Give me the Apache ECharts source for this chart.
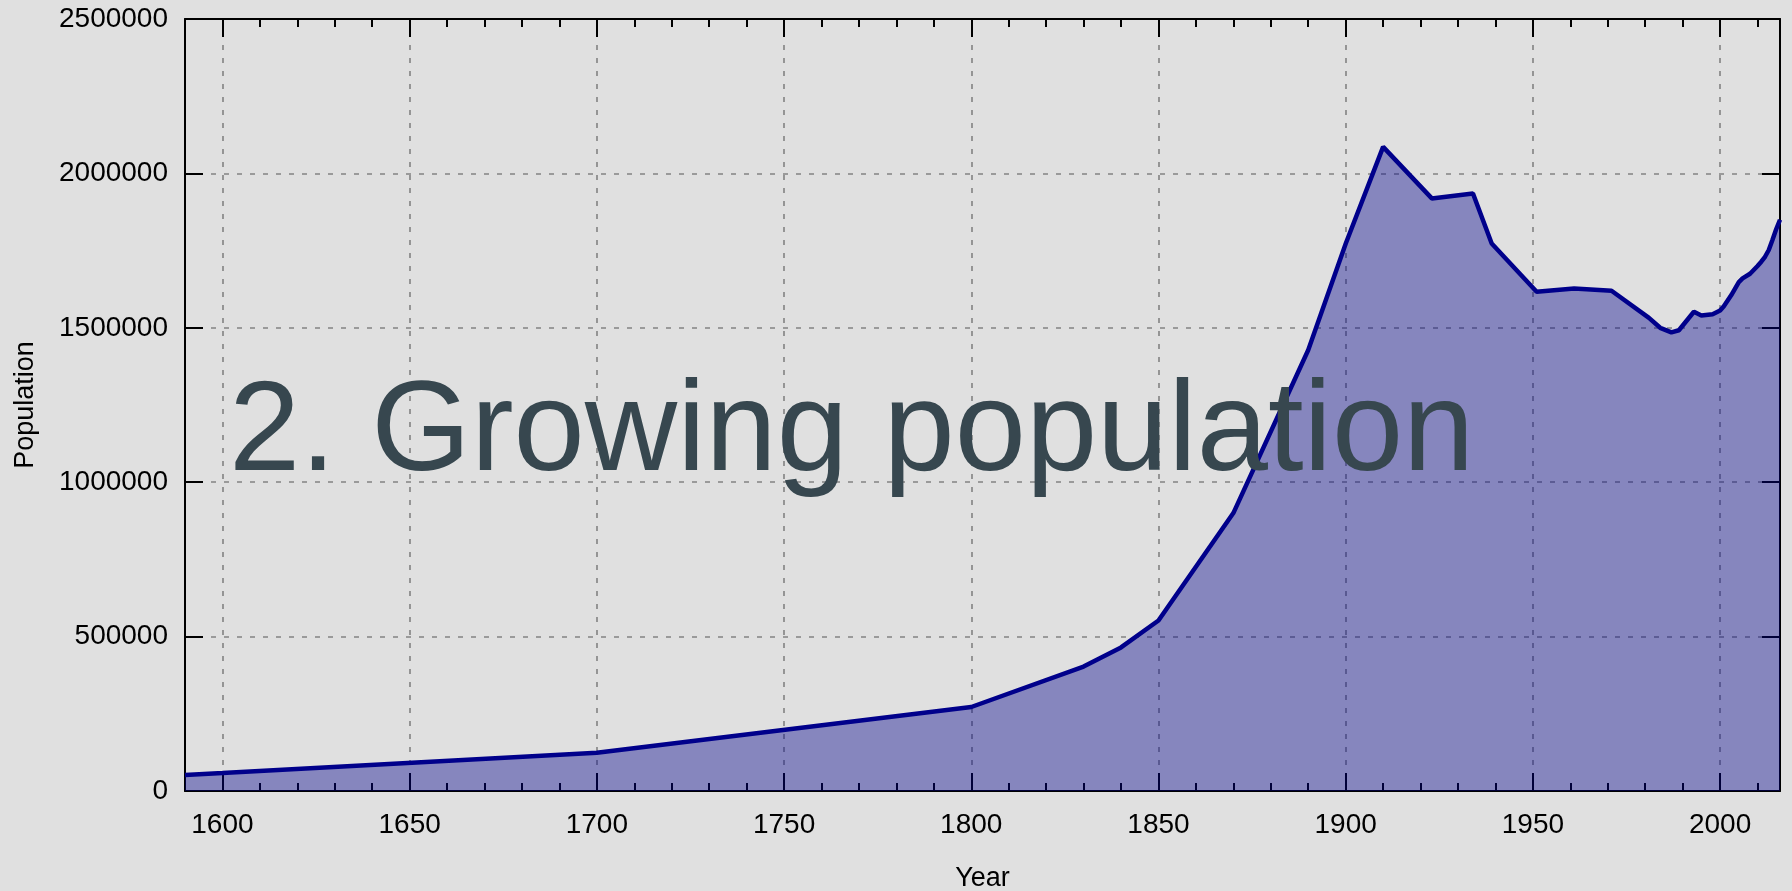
<!DOCTYPE html>
<html>
<head>
<meta charset="utf-8">
<script src="https://cdn.jsdelivr.net/npm/echarts@6/dist/echarts.min.js"></script>
<style>
html,body{margin:0;padding:0;background:#E0E0E0;}
#chart{width:1792px;height:891px;}
</style>
</head>
<body>
<div id="chart"></div>
<script>
// Data
var years = [1590, 1600, 1700, 1800, 1830, 1840, 1850, 1870, 1890, 1900, 1910, 1923, 1934, 1939, 1951, 1961, 1971, 1981, 1984, 1987, 1989, 1993, 1995, 1998, 2000, 2001, 2003, 2005, 2006, 2008, 2010, 2011, 2012, 2013, 2014, 2015, 2016];
var population = [52000, 58000, 124000, 272000, 403000, 465000, 552000, 900000, 1428000, 1772000, 2086000, 1919000, 1935000, 1773000, 1617000, 1627000, 1620000, 1532000, 1500000, 1485000, 1492000, 1552000, 1540000, 1544000, 1556000, 1570000, 1606000, 1648000, 1660000, 1675000, 1700000, 1714000, 1730000, 1752000, 1785000, 1820000, 1850000];
var xMajorTicks = [1600, 1650, 1700, 1750, 1800, 1850, 1900, 1950, 2000];
var xMinorTicks = [1610, 1620, 1630, 1640, 1660, 1670, 1680, 1690, 1710, 1720, 1730, 1740, 1760, 1770, 1780, 1790, 1810, 1820, 1830, 1840, 1860, 1870, 1880, 1890, 1910, 1920, 1930, 1940, 1960, 1970, 1980, 1990, 2010];
var titleText = '2. Growing population';
var xName = 'Year';
var yName = 'Population';

var seriesData = years.map(function (y, i) { return [y, population[i]]; });

var FONT = 'Liberation Sans, Arial, Helvetica, sans-serif';
var gridStyle = { color: 'rgba(0,0,0,0.42)', width: 1.6, type: [5, 8] };

function xAxisBase(pos) {
  return {
    type: 'value', min: 1590, max: 2016, position: pos, gridIndex: 0,
    axisLine: { show: true, onZero: false, lineStyle: { color: '#000', width: 2 } },
    axisTick: { show: true, inside: true, length: 18, customValues: xMajorTicks, lineStyle: { color: '#000', width: 2 } },
    axisLabel: { show: false },
    splitLine: { show: false },
    minorTick: { show: false }
  };
}
var xMain = xAxisBase('bottom');
xMain.axisLabel = { show: true, customValues: xMajorTicks, margin: 20, color: '#000', fontSize: 28, fontFamily: FONT, formatter: function (v) { return String(v); } };
xMain.splitLine = { show: true, lineStyle: gridStyle };
xMain.name = xName;
xMain.nameLocation = 'middle';
xMain.nameGap = 74;
xMain.nameTextStyle = { color: '#000', fontSize: 27, fontFamily: FONT };

var xTop = xAxisBase('top');

function xMinor(pos) {
  var a = xAxisBase(pos);
  a.axisLine = { show: false, onZero: false };
  a.axisTick = { show: true, inside: true, length: 8, customValues: xMinorTicks, lineStyle: { color: '#000', width: 2 } };
  return a;
}

var option = {
  backgroundColor: '#E0E0E0',
  animation: false,
  grid: { left: 185, right: 12, top: 19, bottom: 100, outerBoundsMode: 'none', containLabel: false },
  xAxis: [xMain, xTop, xMinor('bottom'), xMinor('top')],
  yAxis: [
    {
      type: 'value', min: 0, max: 2500000, interval: 500000, position: 'left',
      axisLine: { show: true, onZero: false, lineStyle: { color: '#000', width: 2 } },
      axisTick: { show: true, inside: true, length: 18, lineStyle: { color: '#000', width: 2 } },
      axisLabel: { show: true, margin: 17, color: '#000', fontSize: 28, fontFamily: FONT, formatter: function (v) { return String(v); } },
      splitLine: { show: true, lineStyle: gridStyle },
      name: yName, nameLocation: 'middle', nameGap: 146, nameRotate: 90,
      nameTextStyle: { color: '#000', fontSize: 27, fontFamily: FONT }
    },
    {
      type: 'value', min: 0, max: 2500000, interval: 500000, position: 'right',
      axisLine: { show: true, onZero: false, lineStyle: { color: '#000', width: 2 } },
      axisTick: { show: true, inside: true, length: 18, lineStyle: { color: '#000', width: 2 } },
      axisLabel: { show: false },
      splitLine: { show: false }
    }
  ],
  series: [{
    type: 'line',
    xAxisIndex: 0, yAxisIndex: 0,
    data: seriesData,
    symbol: 'none',
    smooth: false,
    lineStyle: { color: '#00008B', width: 4.5 },
    areaStyle: { color: '#00008B', opacity: 0.4 },
    z: 2
  }],
  graphic: [{
    type: 'text', x: 229, y: 435, z: 100,
    style: { text: titleText, fill: '#37474F', font: '128px ' + FONT, align: 'left', verticalAlign: 'middle', textAlign: 'left', textVerticalAlign: 'middle' }
  }]
};

var chart = echarts.init(document.getElementById('chart'), null, { renderer: 'canvas' });
chart.setOption(option);
</script>
</body>
</html>
